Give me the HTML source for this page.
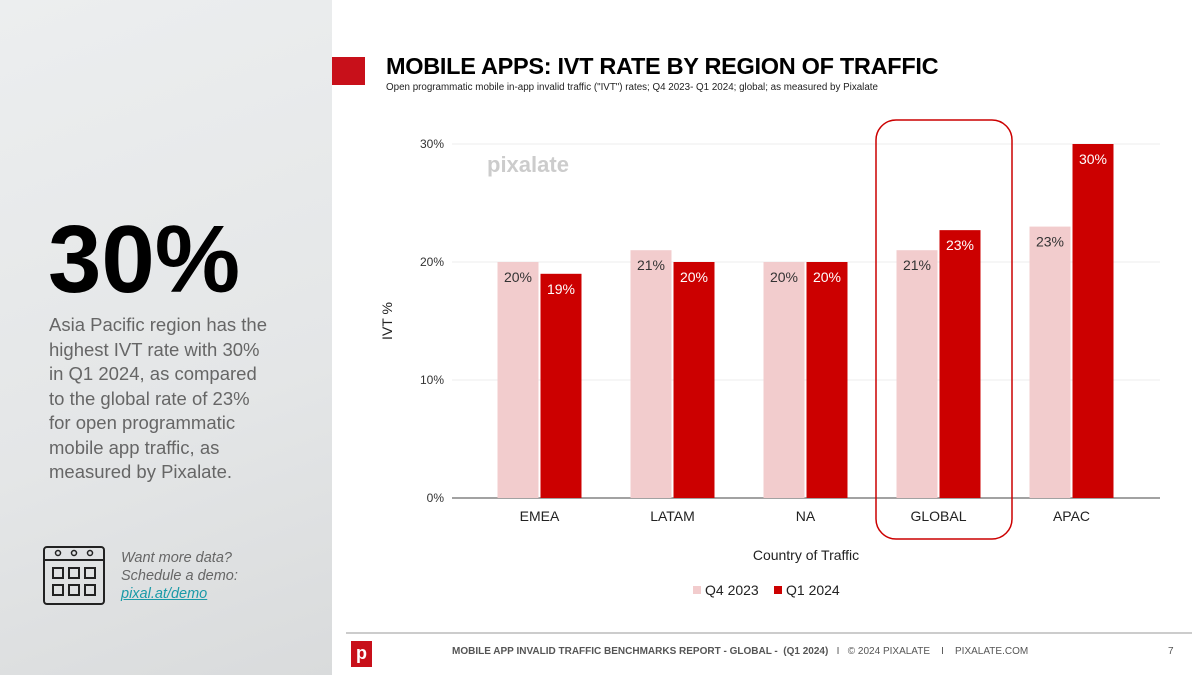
<!DOCTYPE html>
<html><head><meta charset="utf-8">
<style>
body{margin:0;width:1200px;height:675px;overflow:hidden;background:#fff;font-family:"Liberation Sans",sans-serif;position:relative}
.abs{position:absolute}
</style></head><body>
<div class="abs" style="left:0;top:0;width:332px;height:675px;background:linear-gradient(160deg,#eceeef 0%,#e4e6e7 60%,#d9dbdc 100%)"></div>
<div class="abs" style="left:48px;top:205px;font-size:96px;font-weight:bold;letter-spacing:0px;color:#000">30%</div>
<div class="abs" style="left:49px;top:313px;white-space:nowrap;font-size:18.5px;line-height:24.5px;color:#666">Asia Pacific region has the<br>highest IVT rate with 30%<br>in Q1 2024, as compared<br>to the global rate of 23%<br>for open programmatic<br>mobile app traffic, as<br>measured by Pixalate.</div>
<svg class="abs" style="left:43px;top:546px" width="62" height="60" viewBox="0 0 62 60">
<rect x="1" y="1" width="60" height="57" rx="3" fill="none" stroke="#222" stroke-width="2"/>
<line x1="1" y1="14" x2="61" y2="14" stroke="#222" stroke-width="2"/>
<circle cx="15" cy="7" r="2.5" fill="none" stroke="#222" stroke-width="1.5"/><circle cx="31" cy="7" r="2.5" fill="none" stroke="#222" stroke-width="1.5"/><circle cx="47" cy="7" r="2.5" fill="none" stroke="#222" stroke-width="1.5"/>
<rect x="10" y="22" width="10" height="10" fill="none" stroke="#222" stroke-width="2"/><rect x="26" y="22" width="10" height="10" fill="none" stroke="#222" stroke-width="2"/><rect x="42" y="22" width="10" height="10" fill="none" stroke="#222" stroke-width="2"/>
<rect x="10" y="39" width="10" height="10" fill="none" stroke="#222" stroke-width="2"/><rect x="26" y="39" width="10" height="10" fill="none" stroke="#222" stroke-width="2"/><rect x="42" y="39" width="10" height="10" fill="none" stroke="#222" stroke-width="2"/>
</svg>
<div class="abs" style="left:121px;top:549px;font-size:14.5px;line-height:18px;font-style:italic;color:#666">Want more data?<br>Schedule a demo:<br><span style="color:#1a9aa8;text-decoration:underline">pixal.at/demo</span></div>

<div class="abs" style="left:332px;top:57px;width:33px;height:28px;background:#c8101a"></div>
<div class="abs" style="left:386px;top:53px;font-size:23.5px;font-weight:bold;letter-spacing:-0.3px;color:#000">MOBILE APPS: IVT RATE BY REGION OF TRAFFIC</div>
<div class="abs" style="left:386px;top:82px;font-size:9.8px;color:#222">Open programmatic mobile in-app invalid traffic ("IVT") rates; Q4 2023- Q1 2024; global; as measured by Pixalate</div>

<svg class="abs" id="chart" style="left:0;top:0" width="1200" height="675"></svg>

<div class="abs" style="left:346px;top:632px;width:846px;height:2px;background:#ccc"></div>
<div class="abs" style="left:351px;top:641px;width:21px;height:26px;background:#c8101a;color:#fff;font-weight:bold;font-size:18px;text-align:center;line-height:24px">p</div>
<div class="abs" style="left:452px;top:646px;font-size:10px;color:#555;white-space:pre"><b>MOBILE APP INVALID TRAFFIC BENCHMARKS REPORT - GLOBAL -  (Q1 2024)</b>   I   © 2024 PIXALATE    I    PIXALATE.COM</div>
<div class="abs" style="left:1168px;top:646px;font-size:10px;color:#555">7</div>

<script>
const categories=["EMEA","LATAM","NA","GLOBAL","APAC"];
const q4Values=[20,21,20,21,23];
const q1Values=[19,20,20,22.7,30];
const q4Labels=["20%","21%","20%","21%","23%"];
const q1Labels=["19%","20%","20%","23%","30%"];
const yTicks=[0,10,20,30];
const svg=document.getElementById('chart');
const NS="http://www.w3.org/2000/svg";
const x0=473,bandW=133,y0=498,pxPer=11.8,barW=41;
const yS=v=>y0-v*pxPer;
const xC=i=>x0+bandW*(i+0.5);
function mk(t,a){const e=document.createElementNS(NS,t);for(const k in a)e.setAttribute(k,a[k]);svg.appendChild(e);return e;}
yTicks.forEach(t=>{
  const l=mk('line',{x1:452,x2:1160,y1:yS(t),y2:yS(t),stroke:t?'#eee':'#444','stroke-width':1});
  
  
  const tx=mk('text',{x:444,y:yS(t)+4,'text-anchor':'end','font-size':12,fill:'#333'});
  tx.textContent=t+'%';
  
  
});
const wm=mk('text',{x:487,y:172,'font-size':22,'font-weight':'bold',fill:'#ccc'});wm.textContent='pixalate';


categories.forEach((c,i)=>{
  const cx=xC(i);
  const b1=mk('rect',{x:cx-barW-1,y:yS(q4Values[i]),width:barW,height:q4Values[i]*pxPer,fill:'#f2cccd'});
  
  
  const b2=mk('rect',{x:cx+1,y:yS(q1Values[i]),width:barW,height:q1Values[i]*pxPer,fill:'#cc0000'});
  
  
  const l1=mk('text',{x:cx-barW/2-1,y:yS(q4Values[i])+20,'text-anchor':'middle','font-size':14,fill:'#333'});l1.textContent=q4Labels[i];
  
  
  const l2=mk('text',{x:cx+barW/2+1,y:yS(q1Values[i])+20,'text-anchor':'middle','font-size':14,fill:'#fff'});l2.textContent=q1Labels[i];
  
  
  const xl=mk('text',{x:cx,y:521,'text-anchor':'middle','font-size':14,fill:'#222'});xl.textContent=c;
  
  
});
const hl=mk('rect',{x:876,y:120,width:136,height:419,rx:20,fill:'none',stroke:'#cc0000','stroke-width':1.5});


const yt=mk('text',{x:392,y:321,'text-anchor':'middle','font-size':14,fill:'#222',transform:'rotate(-90 392 321)'});yt.textContent='IVT %';


const xt=mk('text',{x:806,y:560,'text-anchor':'middle','font-size':14,fill:'#222'});xt.textContent='Country of Traffic';


[["Q4 2023",'#f2cccd',693],["Q1 2024",'#cc0000',774]].forEach(([t,c,x])=>{
  const r=mk('rect',{x:x,y:586,width:8,height:8,fill:c});
  
  
  const tx=mk('text',{x:x+12,y:595,'font-size':14,fill:'#222'});tx.textContent=t;
  
  
});
</script>
</body></html>
